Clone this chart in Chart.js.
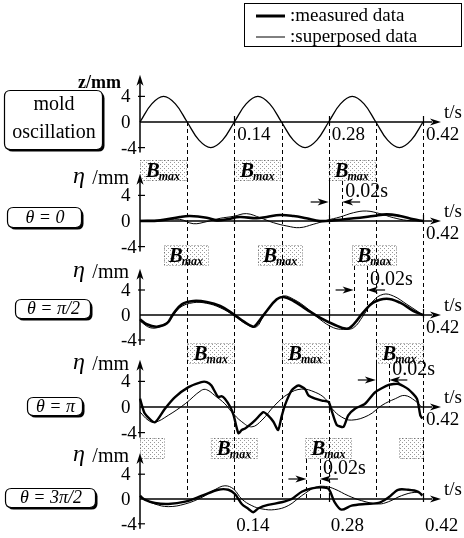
<!DOCTYPE html>
<html>
<head>
<meta charset="utf-8">
<script src="https://cdn.jsdelivr.net/npm/chart.js@4.4.1/dist/chart.umd.min.js"></script>
<style>
  html, body { margin: 0; padding: 0; background: #fff; }
  #wrap { width: 464px; height: 538px; position: relative; }
</style>
</head>
<body>
<div id="wrap"><canvas id="chart"></canvas></div>
<script>
// ---- data (t in s, values in mm) ----
var xTickLabels = [0.14, 0.28, 0.42];
var yTickValues = [4, 0, -4];
var guideTimes = [0.07, 0.14, 0.21, 0.28, 0.35, 0.42];

var moldZ = [[0,0],[0.0175,2.83],[0.035,4],[0.0525,2.83],[0.07,0],[0.0875,-2.83],[0.105,-4],[0.1225,-2.83],
  [0.14,0],[0.1575,2.83],[0.175,4],[0.1925,2.83],[0.21,0],[0.2275,-2.83],[0.245,-4],[0.2625,-2.83],
  [0.28,0],[0.2975,2.83],[0.315,4],[0.3325,2.83],[0.35,0],[0.3675,-2.83],[0.385,-4],[0.4025,-2.83],[0.42,0]];

var theta0Measured = [[0,0],[0.030,0.1],[0.059,0.63],[0.074,0.78],[0.099,0.52],[0.114,0.1],[0.129,0.26],
  [0.148,0.63],[0.173,0.42],[0.188,0.63],[0.208,0.94],[0.228,0.78],[0.247,0.42],[0.267,0],[0.287,0.1],
  [0.317,0.42],[0.346,0.78],[0.366,1.04],[0.386,0.78],[0.406,0.26],[0.42,0]];
var theta0Superposed = [[0,0.1],[0.030,0.1],[0.059,0.26],[0.079,-0.42],[0.099,-0.1],[0.119,0.42],[0.139,0.73],
  [0.158,1.15],[0.178,0.52],[0.198,-0.26],[0.218,-0.78],[0.237,-1.04],[0.257,-0.52],[0.277,0.1],[0.297,0.63],
  [0.317,1.3],[0.336,1.56],[0.356,1.15],[0.376,0.52],[0.396,0.1],[0.42,0]];

var thetaHalfPiMeasured = [[0,-0.69],[0.010,-1.49],[0.025,-1.87],[0.040,-1.33],[0.049,0.11],[0.062,1.71],
  [0.079,2.24],[0.099,2.08],[0.119,1.44],[0.139,0.11],[0.153,-0.96],[0.168,-1.87],[0.173,-1.49],[0.188,0.64],
  [0.203,2.51],[0.213,2.88],[0.228,2.24],[0.247,0.91],[0.267,-0.43],[0.287,-1.49],[0.307,-2.19],[0.317,-1.49],
  [0.331,0.37],[0.346,1.97],[0.366,2.61],[0.386,1.97],[0.406,0.64],[0.42,0]];
var thetaHalfPiSuperposed = [[0,-0.96],[0.015,-2.03],[0.030,-1.87],[0.045,-0.69],[0.059,1.17],[0.079,1.97],
  [0.099,1.87],[0.119,1.17],[0.139,-0.05],[0.158,-1.49],[0.173,-1.87],[0.183,-0.16],[0.198,1.97],[0.213,3.04],
  [0.228,2.51],[0.247,1.17],[0.267,-0.69],[0.287,-2.03],[0.302,-2.29],[0.317,-2.03],[0.331,-0.16],[0.346,2.24],
  [0.361,3.31],[0.376,3.04],[0.396,1.71],[0.42,0]];

var thetaPiMeasured = [[0,1.3],[0.007,-1.0],[0.022,-2.4],[0.037,-0.26],[0.052,1.55],[0.072,3.1],[0.091,3.9],
  [0.099,3.9],[0.106,3.35],[0.116,1.55],[0.121,1.7],[0.126,1.3],[0.134,0],[0.139,-1.3],[0.146,-4.1],[0.151,-3.6],
  [0.156,-3.35],[0.163,-2.8],[0.171,-2.05],[0.183,-0.8],[0.190,-1.3],[0.198,-2.3],[0.205,-3.6],[0.210,-1.55],
  [0.215,0.26],[0.225,2.6],[0.235,3.35],[0.245,2.8],[0.250,1.8],[0.260,1.3],[0.270,1.0],[0.280,0.77],
  [0.285,-0.77],[0.292,-2.8],[0.302,-3.1],[0.309,-1.3],[0.319,-0.26],[0.334,0.5],[0.349,2.3],[0.369,3.45],
  [0.384,3.6],[0.398,2.8],[0.411,1.3],[0.416,-1.3],[0.419,-1.8]];
var thetaPiSuperposed = [[0,-0.77],[0.012,-2.05],[0.022,-2.4],[0.042,-1.3],[0.067,0.5],[0.091,2.6],[0.099,2.7],
  [0.111,1.8],[0.126,0.5],[0.136,-0.77],[0.151,-2.3],[0.166,-3.1],[0.181,-2.05],[0.200,0.26],[0.220,2.05],
  [0.240,2.8],[0.260,2.3],[0.275,1.3],[0.285,-0.26],[0.299,-1.55],[0.314,-2.05],[0.339,-1.3],[0.359,0.26],
  [0.379,1.3],[0.393,1.8],[0.408,1.0],[0.418,0]];

var theta3HalfPiMeasured = [[0,0.53],[0.007,-0.11],[0.022,-0.64],[0.042,-0.8],[0.067,-0.43],[0.092,0.53],
  [0.116,1.49],[0.131,1.49],[0.141,0.8],[0.151,-0.8],[0.161,-1.6],[0.168,-2.13],[0.176,-1.49],[0.190,-0.96],
  [0.210,-0.53],[0.225,0],[0.240,1.17],[0.255,1.71],[0.270,1.87],[0.280,1.6],[0.289,-0.53],[0.299,-1.71],
  [0.314,-1.07],[0.334,-0.8],[0.354,-0.64],[0.369,0.27],[0.383,1.49],[0.398,1.49],[0.413,1.17],[0.419,0.53]];
var theta3HalfPiSuperposed = [[0,0.27],[0.022,-0.8],[0.042,-1.23],[0.067,-0.8],[0.092,0.27],[0.111,1.49],
  [0.126,2.13],[0.139,1.6],[0.151,0],[0.166,-1.07],[0.181,-1.6],[0.200,-1.71],[0.220,-1.07],[0.240,0.53],
  [0.260,1.87],[0.275,2.03],[0.289,1.6],[0.309,0.53],[0.329,-0.27],[0.354,-0.8],[0.369,-0.43],[0.388,0.53],
  [0.408,1.07],[0.419,0.8]];

// B_max intervals per eta panel: [start, end, labelled]
var bmaxBands = [
  [[0, 0.068, true], [0.14, 0.208, true], [0.28, 0.348, true]],
  [[0.035, 0.101, true], [0.175, 0.241, true], [0.315, 0.381, true]],
  [[0.07, 0.14, true], [0.21, 0.28, true], [0.35, 0.42, true]],
  [[0, 0.035, false], [0.105, 0.174, true], [0.245, 0.314, true], [0.385, 0.42, false]]
];
// the 0.02 s lag marked in each eta panel: [from, to]
var lagMarks = [[0.28, 0.30], [0.317, 0.337], [0.35, 0.37], [0.247, 0.267]];

// ---- layout ----
var H = 538;
var zeroPx = [122, 221, 315, 407, 499];
var unitPx = [6.4, 6.4, 6.25, 6.4, 6.2];
var bandTop = [160, 245, 343, 438];
var lagArrowY = [202, 290, 380, 479];
var panelBoxes = [
  {x: 4, y: 90, w: 98, h: 59, lines: ['mold', 'oscillation']},
  {x: 7, y: 207, w: 74, h: 20, lines: ['θ = 0']},
  {x: 15, y: 299, w: 75, h: 19, lines: ['θ = π/2']},
  {x: 27, y: 397, w: 55, h: 18, lines: ['θ = π']},
  {x: 5, y: 488, w: 90, h: 19, lines: ['θ = 3π/2']}
];
var SERIF = '"Liberation Serif", "DejaVu Serif", serif';

function yScale(i) {
  return { display: false, min: -(H - zeroPx[i]) / unitPx[i], max: zeroPx[i] / unitPx[i] };
}

var dots = (function() {
  var c = document.createElement('canvas');
  c.width = 4; c.height = 4;
  var g = c.getContext('2d');
  g.fillStyle = 'rgba(0,0,0,0.4)';
  g.fillRect(0, 0, 1, 1);
  g.fillRect(2, 2, 1, 1);
  return g.createPattern(c, 'repeat');
})();

function seg(ctx, x0, y0, x1, y1) {
  ctx.beginPath(); ctx.moveTo(x0, y0); ctx.lineTo(x1, y1); ctx.stroke();
}
function head(ctx, x, y, dir) {
  ctx.beginPath();
  if (dir === 'up') { ctx.moveTo(x, y); ctx.lineTo(x - 3.5, y + 11); ctx.lineTo(x, y + 8); ctx.lineTo(x + 3.5, y + 11); }
  if (dir === 'right') { ctx.moveTo(x, y); ctx.lineTo(x - 11, y - 3.5); ctx.lineTo(x - 8, y); ctx.lineTo(x - 11, y + 3.5); }
  if (dir === 'left') { ctx.moveTo(x, y); ctx.lineTo(x + 11, y - 3.5); ctx.lineTo(x + 8, y); ctx.lineTo(x + 11, y + 3.5); }
  ctx.closePath(); ctx.fill();
}
function rrect(ctx, x, y, w, h, r) {
  ctx.beginPath();
  ctx.moveTo(x + r, y); ctx.lineTo(x + w - r, y); ctx.quadraticCurveTo(x + w, y, x + w, y + r);
  ctx.lineTo(x + w, y + h - r); ctx.quadraticCurveTo(x + w, y + h, x + w - r, y + h);
  ctx.lineTo(x + r, y + h); ctx.quadraticCurveTo(x, y + h, x, y + h - r);
  ctx.lineTo(x, y + r); ctx.quadraticCurveTo(x, y, x + r, y);
  ctx.closePath();
}
function text(ctx, s, x, y, font, align) {
  ctx.font = font; ctx.textAlign = align || 'left'; ctx.textBaseline = 'middle';
  ctx.fillText(s, x, y);
}
function bmaxLabel(ctx, cx, cy) {
  ctx.textBaseline = 'alphabetic'; ctx.textAlign = 'left';
  ctx.font = 'italic bold 21px ' + SERIF;
  var wB = ctx.measureText('B').width;
  ctx.font = 'italic bold 12px ' + SERIF;
  var wm = ctx.measureText('max').width;
  var x0 = cx - (wB + wm - 1) / 2;
  ctx.font = 'italic bold 21px ' + SERIF;
  ctx.fillText('B', x0, cy + 7);
  ctx.font = 'italic bold 12px ' + SERIF;
  ctx.fillText('max', x0 + wB - 1, cy + 10);
}

var figurePlugin = {
  id: 'figure',
  beforeDatasetsDraw: function(chart) {
    var ctx = chart.ctx, sx = chart.scales.x;
    ctx.save();
    ctx.fillStyle = '#fff'; ctx.fillRect(0, 0, chart.width, chart.height);
    // B_max bands
    bmaxBands.forEach(function(bands, i) {
      bands.forEach(function(b) {
        var x0 = sx.getPixelForValue(b[0]), x1 = sx.getPixelForValue(b[1]);
        ctx.fillStyle = dots;
        ctx.fillRect(x0, bandTop[i], x1 - x0, 21);
        ctx.strokeStyle = 'rgba(0,0,0,0.5)'; ctx.lineWidth = 1; ctx.setLineDash([1, 2]);
        ctx.strokeRect(Math.round(x0) + 0.5, bandTop[i] + 0.5, Math.round(x1 - x0), 20);
        ctx.setLineDash([]);
        ctx.fillStyle = '#000';
        if (b[2]) bmaxLabel(ctx, (x0 + x1) / 2, bandTop[i] + 10);
      });
    });
    // long dashed guides at the mold zero crossings
    ctx.strokeStyle = '#000'; ctx.lineWidth = 1; ctx.setLineDash([4, 3]);
    var yTop = chart.scales.y1.getPixelForValue(0), yBot = chart.scales.y5.getPixelForValue(0);
    guideTimes.forEach(function(t) {
      var gx = Math.round(sx.getPixelForValue(t)) + 0.5;
      seg(ctx, gx, yTop, gx, yBot);
    });
    // lag markers
    lagMarks.forEach(function(m, i) {
      var z = chart.scales['y' + (i + 2)].getPixelForValue(0);
      m.forEach(function(t) {
        var gx = Math.round(sx.getPixelForValue(t)) + 0.5;
        seg(ctx, gx, bandTop[i] + 21, gx, z);
      });
    });
    ctx.restore();
  },
  afterDatasetsDraw: function(chart) {
    var ctx = chart.ctx, sx = chart.scales.x;
    var x0 = sx.getPixelForValue(0);
    var F = '19px ' + SERIF;
    ctx.save();
    ctx.fillStyle = '#000'; ctx.strokeStyle = '#000';
    for (var i = 0; i < 5; i++) {
      var ys = chart.scales['y' + (i + 1)];
      var z = ys.getPixelForValue(0);
      // y axis
      ctx.lineWidth = 1.5;
      seg(ctx, x0, ys.getPixelForValue(-4) + 5, x0, ys.getPixelForValue(7.4) + 6);
      head(ctx, x0, ys.getPixelForValue(7.4), 'up');
      yTickValues.forEach(function(v) {
        var ty = ys.getPixelForValue(v);
        ctx.lineWidth = 1.2;
        if (v !== 0) seg(ctx, x0 - 2, ty, x0 + 5, ty);
        text(ctx, String(v), 121, ty + 1, F, 'left');
      });
      // x axis
      ctx.lineWidth = 1.5;
      seg(ctx, x0, z, 432, z);
      head(ctx, 441, z, 'right');
      xTickLabels.forEach(function(t) {
        var tx = Math.round(sx.getPixelForValue(t)) + 0.5;
        ctx.lineWidth = 1.2;
        seg(ctx, tx, z - 6, tx, z + 3);
      });
      text(ctx, 't/s', 444, z - 9, F, 'left');
      if (i < 4) {
        text(ctx, '0.42', sx.getPixelForValue(0.42) + 3, z + 13, F, 'left');
      }
      if (i === 0) {
        text(ctx, '0.14', sx.getPixelForValue(0.14) + 3, z + 13, F, 'left');
        text(ctx, '0.28', sx.getPixelForValue(0.28) + 3, z + 13, F, 'left');
        text(ctx, 'z/mm', 121, z - 39, 'bold 18px ' + SERIF, 'right');
      } else {
        text(ctx, '/mm', 129, z - 42, '20px ' + SERIF, 'right');
        text(ctx, 'η', 73, z - 44, 'italic 24px ' + SERIF, 'left');
      }
      if (i === 4) {
        xTickLabels.forEach(function(t) {
          text(ctx, String(t), sx.getPixelForValue(t) + 2, z + 27, F, 'left');
        });
      }
      // panel name box
      var b = panelBoxes[i];
      ctx.fillStyle = '#000';
      rrect(ctx, b.x + 2.5, b.y + 2.5, b.w, b.h, 6); ctx.fill();
      ctx.fillStyle = '#fff';
      rrect(ctx, b.x + 0.5, b.y + 0.5, b.w, b.h, 6); ctx.fill();
      ctx.lineWidth = 1.2; ctx.stroke();
      ctx.fillStyle = '#000';
      if (b.lines.length === 2) {
        text(ctx, b.lines[0], b.x + b.w / 2 + 1, b.y + 15, '20px ' + SERIF, 'center');
        text(ctx, b.lines[1], b.x + b.w / 2 + 1, b.y + 43, '20px ' + SERIF, 'center');
      } else {
        text(ctx, b.lines[0], b.x + b.w / 2 + 1, b.y + b.h / 2 + 1, 'italic 18px ' + SERIF, 'center');
      }
    }
    // 0.02 s lag arrows
    lagMarks.forEach(function(m, i) {
      var a = sx.getPixelForValue(m[0]), c = sx.getPixelForValue(m[1]), y = lagArrowY[i];
      ctx.lineWidth = 1.2;
      seg(ctx, a - 18, y, a - 6, y); head(ctx, a, y, 'right');
      seg(ctx, c + 6, y, c + 18, y); head(ctx, c, y, 'left');
      text(ctx, '0.02s', c + 3, y - 10, '20px ' + SERIF, 'left');
    });
    // legend
    ctx.lineWidth = 1; ctx.strokeRect(244.5, 3.5, 217, 43);
    ctx.lineWidth = 3; seg(ctx, 256, 16, 285, 16);
    ctx.lineWidth = 1; seg(ctx, 256, 37, 285, 37);
    text(ctx, ':measured data', 290, 16, F, 'left');
    text(ctx, ':superposed data', 290, 37, F, 'left');
    ctx.restore();
  }
};

function series(data, axis, width, tension) {
  return { data: data, yAxisID: axis, borderColor: '#000', borderWidth: width,
    pointRadius: 0, tension: tension, fill: false, clip: false };
}

document.addEventListener('DOMContentLoaded', function() {
  var ctx = document.getElementById('chart').getContext('2d');
  new Chart(ctx, {
    type: 'line',
    data: {
      datasets: [
        series(moldZ, 'y1', 1.3, 0.4),
        series(theta0Superposed, 'y2', 1, 0.4),
        series(theta0Measured, 'y2', 2.6, 0.4),
        series(thetaHalfPiSuperposed, 'y3', 1, 0.4),
        series(thetaHalfPiMeasured, 'y3', 2.6, 0.4),
        series(thetaPiSuperposed, 'y4', 1, 0.4),
        series(thetaPiMeasured, 'y4', 2.4, 0.2),
        series(theta3HalfPiSuperposed, 'y5', 1, 0.4),
        series(theta3HalfPiMeasured, 'y5', 2.4, 0.3)
      ]
    },
    options: {
      responsive: true,
      maintainAspectRatio: false,
      animation: false,
      layout: { padding: { left: 140, right: 41, top: 0, bottom: 0 } },
      scales: {
        x: { type: 'linear', display: false, min: 0, max: 0.42 },
        y1: yScale(0), y2: yScale(1), y3: yScale(2), y4: yScale(3), y5: yScale(4)
      },
      plugins: { legend: { display: false }, tooltip: { enabled: false } }
    },
    plugins: [figurePlugin]
  });
});
</script>
</body>
</html>
